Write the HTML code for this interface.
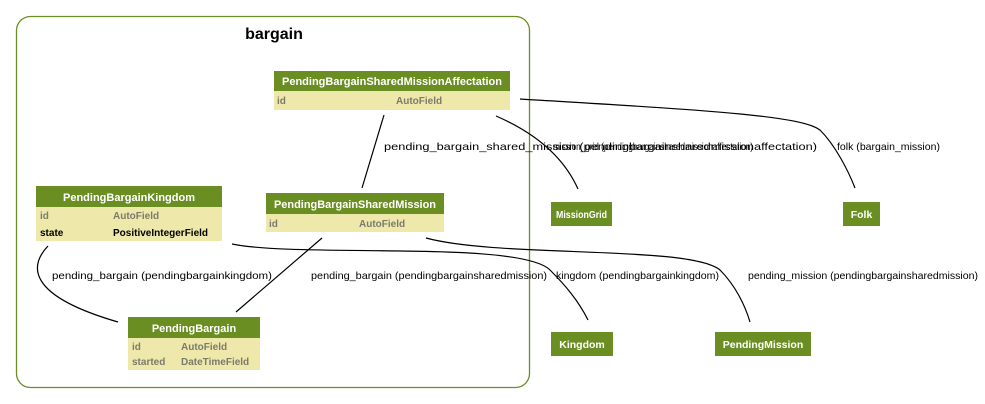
<!DOCTYPE html>
<html><head><meta charset="utf-8"><style>
html,body{margin:0;padding:0;background:#fff;}
svg{display:block;font-family:"Liberation Sans",sans-serif;}
.h{fill:#fff;font-weight:bold;font-size:11px;}
.e{fill:#fff;font-weight:bold;font-size:10.5px;}
.g{fill:#7b7b6b;font-weight:bold;font-size:10px;}
.b{fill:#000;font-weight:bold;font-size:10px;}
.l{font-size:10.5px;fill:#000;}
</style></head><body>
<svg width="985" height="404" viewBox="0 0 985 404">
<rect x="16.5" y="16.5" width="513" height="371" rx="14" fill="none" stroke="#6b8e23" stroke-width="1.3"/>
<text x="274" y="39" text-anchor="middle" font-weight="bold" font-size="16">bargain</text>
<g fill="none" stroke="#000" stroke-width="1.2">
<path d="M384,115 L362,188"/>
<path d="M496,116 C540,135 565,160 578,189"/>
<path d="M520,99 C700,110 800,115 820,130 C835,145 848,170 855,188"/>
<path d="M322,238 L236,312"/>
<path d="M48,246 C30,265 25,295 118,322"/>
<path d="M232,244 C300,258 520,240 550,270 C565,285 578,300 588,320"/>
<path d="M426,238 C500,258 690,245 720,270 C735,285 745,305 750,322"/>
</g>
<g class="l">
<text x="384" y="150" textLength="433" lengthAdjust="spacingAndGlyphs">pending_bargain_shared_mission (pendingbargainsharedmissionaffectation)</text>
<text x="553" y="150" textLength="200" lengthAdjust="spacingAndGlyphs">mission_grid (pendingbargainsharedmissionaffectation)</text>
<text x="837" y="150" textLength="103" lengthAdjust="spacingAndGlyphs">folk (bargain_mission)</text>
<text x="52" y="279" textLength="220" lengthAdjust="spacingAndGlyphs">pending_bargain (pendingbargainkingdom)</text>
<text x="311" y="279" textLength="236" lengthAdjust="spacingAndGlyphs">pending_bargain (pendingbargainsharedmission)</text>
<text x="556" y="279" textLength="163" lengthAdjust="spacingAndGlyphs">kingdom (pendingbargainkingdom)</text>
<text x="748" y="279" textLength="230" lengthAdjust="spacingAndGlyphs">pending_mission (pendingbargainsharedmission)</text>
</g>
<rect x="274" y="71" width="236" height="20" fill="#6b8e23"/>
<rect x="274" y="91" width="236" height="19" fill="#eee8aa"/>
<text class="h" x="282" y="85" textLength="220" lengthAdjust="spacingAndGlyphs">PendingBargainSharedMissionAffectation</text>
<text class="g" x="277" y="104">id</text><text class="g" x="396" y="104">AutoField</text>
<rect x="266" y="193" width="178" height="21" fill="#6b8e23"/>
<rect x="266" y="214" width="178" height="18" fill="#eee8aa"/>
<text class="h" x="274" y="208" textLength="162" lengthAdjust="spacingAndGlyphs">PendingBargainSharedMission</text>
<text class="g" x="269" y="227">id</text><text class="g" x="359" y="227">AutoField</text>
<rect x="36" y="186" width="186" height="21" fill="#6b8e23"/>
<rect x="36" y="207" width="186" height="34" fill="#eee8aa"/>
<text class="h" x="129" y="201" text-anchor="middle">PendingBargainKingdom</text>
<text class="g" x="40" y="219">id</text><text class="g" x="113" y="219">AutoField</text>
<text class="b" x="40" y="236">state</text><text class="b" x="113" y="236">PositiveIntegerField</text>
<rect x="128" y="317" width="132" height="21" fill="#6b8e23"/>
<rect x="128" y="338" width="132" height="32" fill="#eee8aa"/>
<text class="h" x="194" y="332" text-anchor="middle">PendingBargain</text>
<text class="g" x="132" y="350">id</text><text class="g" x="181" y="350">AutoField</text>
<text class="g" x="132" y="365">started</text><text class="g" x="181" y="365">DateTimeField</text>
<rect x="551" y="202" width="61" height="24" fill="#6b8e23"/>
<text class="e" x="556" y="218" textLength="51" lengthAdjust="spacingAndGlyphs">MissionGrid</text>
<rect x="843" y="202" width="37" height="24" fill="#6b8e23"/>
<text class="e" x="861.5" y="218" text-anchor="middle">Folk</text>
<rect x="551" y="332" width="62" height="24" fill="#6b8e23"/>
<text class="e" x="582" y="348" text-anchor="middle">Kingdom</text>
<rect x="715" y="332" width="96" height="24" fill="#6b8e23"/>
<text class="e" x="763" y="348" text-anchor="middle">PendingMission</text>
</svg>
</body></html>
